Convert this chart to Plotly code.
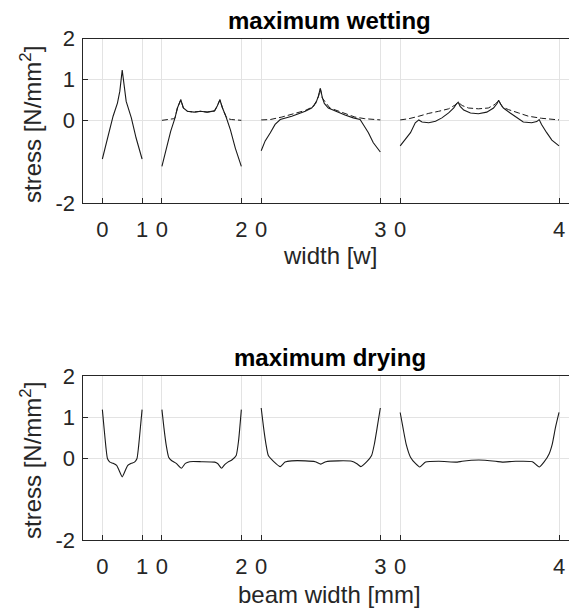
import plotly.graph_objects as go

# ---------------- data ----------------
SEG_WIDTHS = [1, 2, 3, 4]
TICK_LABELS = ["0", "1", "0", "2", "0", "3", "0", "4"]
Y_TICKS = [-2, 0, 1, 2]
Y_TICK_LABELS = ["-2", "0", "1", "2"]

# maximum wetting, solid
WET_X1 = [0, 0.15, 0.27, 0.38, 0.44, 0.5, 0.55, 0.6, 0.73, 0.85, 1.0]
WET_Y1 = [-0.93, -0.38, 0.11, 0.43, 0.72, 1.23, 0.76, 0.47, 0.07, -0.42, -0.93]
WET_X2 = [0, 0.1, 0.22, 0.33, 0.39, 0.475, 0.54, 0.64, 0.81, 0.975, 1.14, 1.325, 1.39, 1.46, 1.525, 1.61, 1.725, 1.85, 2.0]
WET_Y2 = [-1.11, -0.71, -0.26, 0.07, 0.31, 0.51, 0.31, 0.23, 0.21, 0.23, 0.21, 0.24, 0.35, 0.51, 0.31, 0.11, -0.22, -0.67, -1.11]
WET_X3 = [0, 0.1, 0.23, 0.35, 0.48, 0.6, 0.77, 0.94, 1.11, 1.27, 1.38, 1.44, 1.49, 1.54, 1.59, 1.69, 1.9, 2.11, 2.32, 2.49, 2.57, 2.7, 2.82, 3.0]
WET_Y3 = [-0.73, -0.49, -0.29, -0.09, 0.03, 0.06, 0.11, 0.17, 0.23, 0.31, 0.44, 0.60, 0.79, 0.56, 0.42, 0.31, 0.22, 0.14, 0.07, 0.03, -0.09, -0.29, -0.53, -0.76]
WET_X4 = [0, 0.13, 0.26, 0.38, 0.47, 0.55, 0.72, 0.89, 1.05, 1.22, 1.35, 1.41, 1.46, 1.51, 1.6, 1.77, 1.97, 2.18, 2.35, 2.44, 2.48, 2.53, 2.6, 2.77, 2.94, 3.1, 3.31, 3.44, 3.5, 3.56, 3.69, 3.82, 4.0]
WET_Y4 = [-0.61, -0.45, -0.29, -0.05, 0.02, -0.03, -0.05, -0.01, 0.07, 0.19, 0.31, 0.40, 0.45, 0.35, 0.26, 0.19, 0.17, 0.21, 0.31, 0.42, 0.50, 0.40, 0.31, 0.19, 0.07, -0.03, -0.05, -0.02, 0.03, -0.09, -0.29, -0.47, -0.61]

# maximum wetting, dashed
WET_DX2 = [0, 0.1, 0.2, 0.3, 0.33, 0.39, 0.475, 0.54, 0.64, 0.81, 0.975, 1.14, 1.325, 1.39, 1.46, 1.525, 1.61, 1.66, 1.75, 1.9, 2.0]
WET_DY2 = [0.01, 0.02, 0.03, 0.05, 0.07, 0.31, 0.51, 0.31, 0.23, 0.21, 0.23, 0.21, 0.24, 0.35, 0.51, 0.31, 0.11, 0.05, 0.03, 0.02, 0.01]
WET_DX3 = [0, 0.23, 0.52, 0.85, 1.11, 1.32, 1.44, 1.49, 1.54, 1.73, 2.1, 2.36, 2.61, 2.82, 3.0]
WET_DY3 = [0.02, 0.03, 0.09, 0.19, 0.25, 0.35, 0.58, 0.77, 0.55, 0.31, 0.18, 0.09, 0.05, 0.03, 0.02]
WET_DX4 = [0, 0.22, 0.47, 0.72, 0.97, 1.22, 1.38, 1.46, 1.56, 1.72, 1.97, 2.22, 2.39, 2.48, 2.58, 2.73, 2.98, 3.23, 3.56, 4.0]
WET_DY4 = [0.02, 0.05, 0.11, 0.18, 0.23, 0.29, 0.38, 0.45, 0.37, 0.31, 0.29, 0.31, 0.40, 0.49, 0.33, 0.27, 0.19, 0.11, 0.06, 0.02]

# maximum drying, solid
DRY_X1 = [0, 0.05, 0.09, 0.13, 0.19, 0.27, 0.36, 0.42, 0.5, 0.58, 0.64, 0.73, 0.81, 0.87, 0.91, 0.95, 1.0]
DRY_Y1 = [1.18, 0.66, 0.26, -0.02, -0.10, -0.13, -0.18, -0.30, -0.46, -0.30, -0.18, -0.13, -0.10, -0.02, 0.26, 0.66, 1.18]
DRY_X2 = [0, 0.05, 0.11, 0.17, 0.24, 0.36, 0.49, 0.59, 0.70, 0.99, 1.33, 1.41, 1.5, 1.58, 1.66, 1.76, 1.87, 1.93, 2.0]
DRY_Y2 = [1.18, 0.74, 0.30, 0.02, -0.06, -0.13, -0.25, -0.13, -0.09, -0.09, -0.10, -0.14, -0.25, -0.16, -0.10, -0.05, 0.06, 0.42, 1.18]
DRY_X3 = [0, 0.06, 0.12, 0.18, 0.31, 0.48, 0.6, 0.77, 1.11, 1.36, 1.5, 1.63, 1.94, 2.28, 2.41, 2.51, 2.66, 2.78, 2.85, 2.92, 3.0]
DRY_Y3 = [1.22, 0.74, 0.34, 0.06, -0.08, -0.21, -0.10, -0.07, -0.07, -0.09, -0.15, -0.09, -0.07, -0.08, -0.14, -0.21, -0.09, 0.06, 0.34, 0.74, 1.22]
DRY_X4 = [0, 0.07, 0.15, 0.26, 0.39, 0.49, 0.64, 0.97, 1.44, 1.56, 1.98, 2.4, 2.57, 2.91, 3.33, 3.5, 3.62, 3.75, 3.83, 3.91, 4.0]
DRY_Y4 = [1.11, 0.74, 0.34, 0.02, -0.14, -0.22, -0.10, -0.08, -0.10, -0.08, -0.05, -0.08, -0.10, -0.08, -0.09, -0.22, -0.10, 0.10, 0.34, 0.74, 1.11]

# ---------------- layout constants ----------------
PAGE_W, PAGE_H = 577, 611
BODY_MARGIN = 8                      # default html body margin shifts the plot
W, H = PAGE_W - BODY_MARGIN, PAGE_H - BODY_MARGIN
SEG_GAP = 0.5
FONT = "Liberation Sans, Arial, sans-serif"
AX_COLOR = "#262626"
GRID_COLOR = "#e3e3e3"
LINE_COLOR = "#1a1a1a"
TICK_SIZE = 22
LABEL_SIZE = 24

offsets = []
o = 0.0
for w in SEG_WIDTHS:
    offsets.append(o)
    o += w + SEG_GAP
tickvals = []
for off, w in zip(offsets, SEG_WIDTHS):
    tickvals += [off, off + w]

def fy(p):   # screen pixel (from top) -> paper fraction
    return 1 - (p - BODY_MARGIN) / H

def fx(p):   # screen pixel (from left) -> paper fraction
    return (p - BODY_MARGIN) / W

fig = go.Figure()

wet_solid = [(WET_X1, WET_Y1), (WET_X2, WET_Y2), (WET_X3, WET_Y3), (WET_X4, WET_Y4)]
wet_dash = [None, (WET_DX2, WET_DY2), (WET_DX3, WET_DY3), (WET_DX4, WET_DY4)]
dry_solid = [(DRY_X1, DRY_Y1), (DRY_X2, DRY_Y2), (DRY_X3, DRY_Y3), (DRY_X4, DRY_Y4)]

for i, off in enumerate(offsets):
    if wet_dash[i] is not None:
        dx, dy = wet_dash[i]
        fig.add_trace(go.Scatter(x=[off + v for v in dx], y=dy, mode="lines",
                                 line=dict(color=LINE_COLOR, width=1, dash="6px,3px"),
                                 xaxis="x", yaxis="y", showlegend=False, hoverinfo="skip"))
    sx, sy = wet_solid[i]
    fig.add_trace(go.Scatter(x=[off + v for v in sx], y=sy, mode="lines",
                             line=dict(color=LINE_COLOR, width=1.1),
                             xaxis="x", yaxis="y", showlegend=False, hoverinfo="skip"))
    bx, by = dry_solid[i]
    fig.add_trace(go.Scatter(x=[off + v for v in bx], y=by, mode="lines",
                             line=dict(color=LINE_COLOR, width=1.1, shape="spline", smoothing=0.5),
                             xaxis="x2", yaxis="y2", showlegend=False, hoverinfo="skip"))

x_left_px = 82.5          # screen px of the left axis border
px_per_unit = 39.71
x_range = [-0.5, -0.5 + (PAGE_W - x_left_px) / px_per_unit]

xcommon = dict(range=x_range, tickvals=tickvals, ticktext=TICK_LABELS,
               showgrid=True, gridcolor=GRID_COLOR, gridwidth=1,
               showline=True, linecolor=AX_COLOR, linewidth=1, mirror=True,
               ticks="inside", ticklen=5, tickcolor=AX_COLOR,
               tickfont=dict(family=FONT, size=TICK_SIZE, color=AX_COLOR),
               ticklabelstandoff=7, zeroline=False, automargin=False,
               domain=[fx(x_left_px), 1])
ycommon = dict(range=[-2, 2], tickvals=Y_TICKS, ticktext=Y_TICK_LABELS,
               showgrid=True, gridcolor=GRID_COLOR, gridwidth=1,
               showline=True, linecolor=AX_COLOR, linewidth=1, mirror=True,
               ticks="inside", ticklen=5, tickcolor=AX_COLOR,
               tickfont=dict(family=FONT, size=TICK_SIZE, color=AX_COLOR),
               ticklabelstandoff=2, zeroline=False, automargin=False)

fig.update_layout(
    width=W, height=H,
    margin=dict(l=0, r=0, t=0, b=0),
    paper_bgcolor="white", plot_bgcolor="white",
    xaxis=dict(xcommon, anchor="y"),
    yaxis=dict(ycommon, domain=[fy(203), fy(38.5)], anchor="x"),
    xaxis2=dict(xcommon, anchor="y2"),
    yaxis2=dict(ycommon, domain=[fy(540), fy(376)], anchor="x2"),
)

xc = (fx(x_left_px) + 1) / 2
ann = [
    dict(text="<b>maximum wetting</b>", x=xc, y=fy(20),
         font=dict(family=FONT, size=LABEL_SIZE, color="#000000")),
    dict(text="width [w]", x=xc, y=fy(255),
         font=dict(family=FONT, size=LABEL_SIZE, color=AX_COLOR)),
    dict(text="<b>maximum drying</b>", x=xc, y=fy(357),
         font=dict(family=FONT, size=LABEL_SIZE, color="#000000")),
    dict(text="beam width [mm]", x=xc, y=fy(594),
         font=dict(family=FONT, size=LABEL_SIZE, color=AX_COLOR)),
    dict(text="stress [N/mm<sup>2</sup>]", x=fx(31), y=fy(125), textangle=-90,
         font=dict(family=FONT, size=LABEL_SIZE, color=AX_COLOR)),
    dict(text="stress [N/mm<sup>2</sup>]", x=fx(31), y=fy(461), textangle=-90,
         font=dict(family=FONT, size=LABEL_SIZE, color=AX_COLOR)),
]
for a in ann:
    a.update(xref="paper", yref="paper", showarrow=False,
             xanchor="center", yanchor="middle")
fig.update_layout(annotations=ann)

fig.write_html("out.html")
